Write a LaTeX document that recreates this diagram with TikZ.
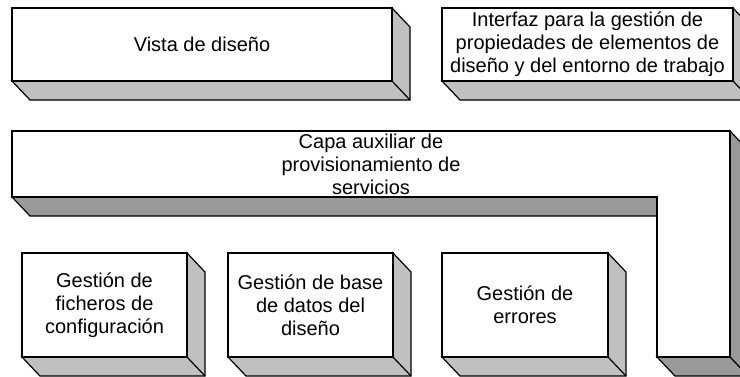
\documentclass[tikz,border=0pt]{standalone}
\usepackage{fontspec}
\setmainfont{Liberation Sans}
\usetikzlibrary{backgrounds}
\definecolor{sidelight}{HTML}{C0C0C0}
\definecolor{sidedark}{HTML}{999999}
\tikzset{
  face/.style={draw=black, fill=white, line width=1.2pt, outer sep=0pt, inner sep=0pt,
    align=center, font=\fontsize{20}{23}\selectfont},
  sideface/.style={draw=black, line width=1.2pt, line join=miter},
  txt/.style={align=center, font=\fontsize{20}{23}\selectfont, inner sep=0pt},
}
\newcommand{\cajaextr}[2]{%
  \begin{scope}[on background layer]
    \filldraw[sideface, fill=#2] (#1.north east) -- ++(18,19)
      -- ([shift={(18,19)}]#1.south east) -- ([shift={(18,19)}]#1.south west)
      -- (#1.south west) -- (#1.south east) -- cycle;
    \draw[sideface] (#1.south east) -- ([shift={(18,19)}]#1.south east);
  \end{scope}}
\begin{document}
\begin{tikzpicture}[x=1pt, y=-1pt]
\useasboundingbox (0,0) rectangle (740,376);
\clip (0,0) rectangle (740,376);
% top boxes
\node[face, minimum width=380pt, minimum height=73pt] (vista) at (202,44.5) {Vista de diseño};
\cajaextr{vista}{sidelight}
\node[face, minimum width=291pt, minimum height=73pt] (interfaz) at (587.5,44.5)
  {Interfaz para la gestión de\\propiedades de elementos de\\diseño y del entorno de trabajo};
\cajaextr{interfaz}{sidelight}
% L-shaped layer
\coordinate (c1) at (12,131);
\coordinate (c2) at (730,131);
\coordinate (c3) at (730,357);
\coordinate (c4) at (657,357);
\coordinate (c5) at (657,197);
\coordinate (c6) at (12,197);
\filldraw[sideface, fill=sidedark] (c2) -- ++(18,19) -- ([shift={(18,19)}]c3) -- (c3) -- cycle;
\filldraw[sideface, fill=sidedark] (c6) -- (c5) -- (657,216) -- ([shift={(18,19)}]c6) -- cycle;
\filldraw[sideface, fill=sidedark] (c4) -- (c3) -- ([shift={(18,19)}]c3) -- ([shift={(18,19)}]c4) -- cycle;
\filldraw[sideface, fill=white] (c1) -- (c2) -- (c3) -- (c4) -- (c5) -- (c6) -- cycle;
\node[txt] (capa) at (371,164) {Capa auxiliar de\\provisionamiento de\\servicios};
% bottom boxes
\node[face, minimum width=165pt, minimum height=104pt] (ficheros) at (104.5,305)
  {Gestión de\\ficheros de\\configuración};
\cajaextr{ficheros}{sidelight}
\node[face, minimum width=165pt, minimum height=104pt] (datos) at (310.5,305)
  {Gestión de base\\de datos del\\diseño};
\cajaextr{datos}{sidelight}
\node[face, minimum width=166pt, minimum height=104pt] (errores) at (525,305)
  {Gestión de\\errores};
\cajaextr{errores}{sidelight}
\end{tikzpicture}
\end{document}
